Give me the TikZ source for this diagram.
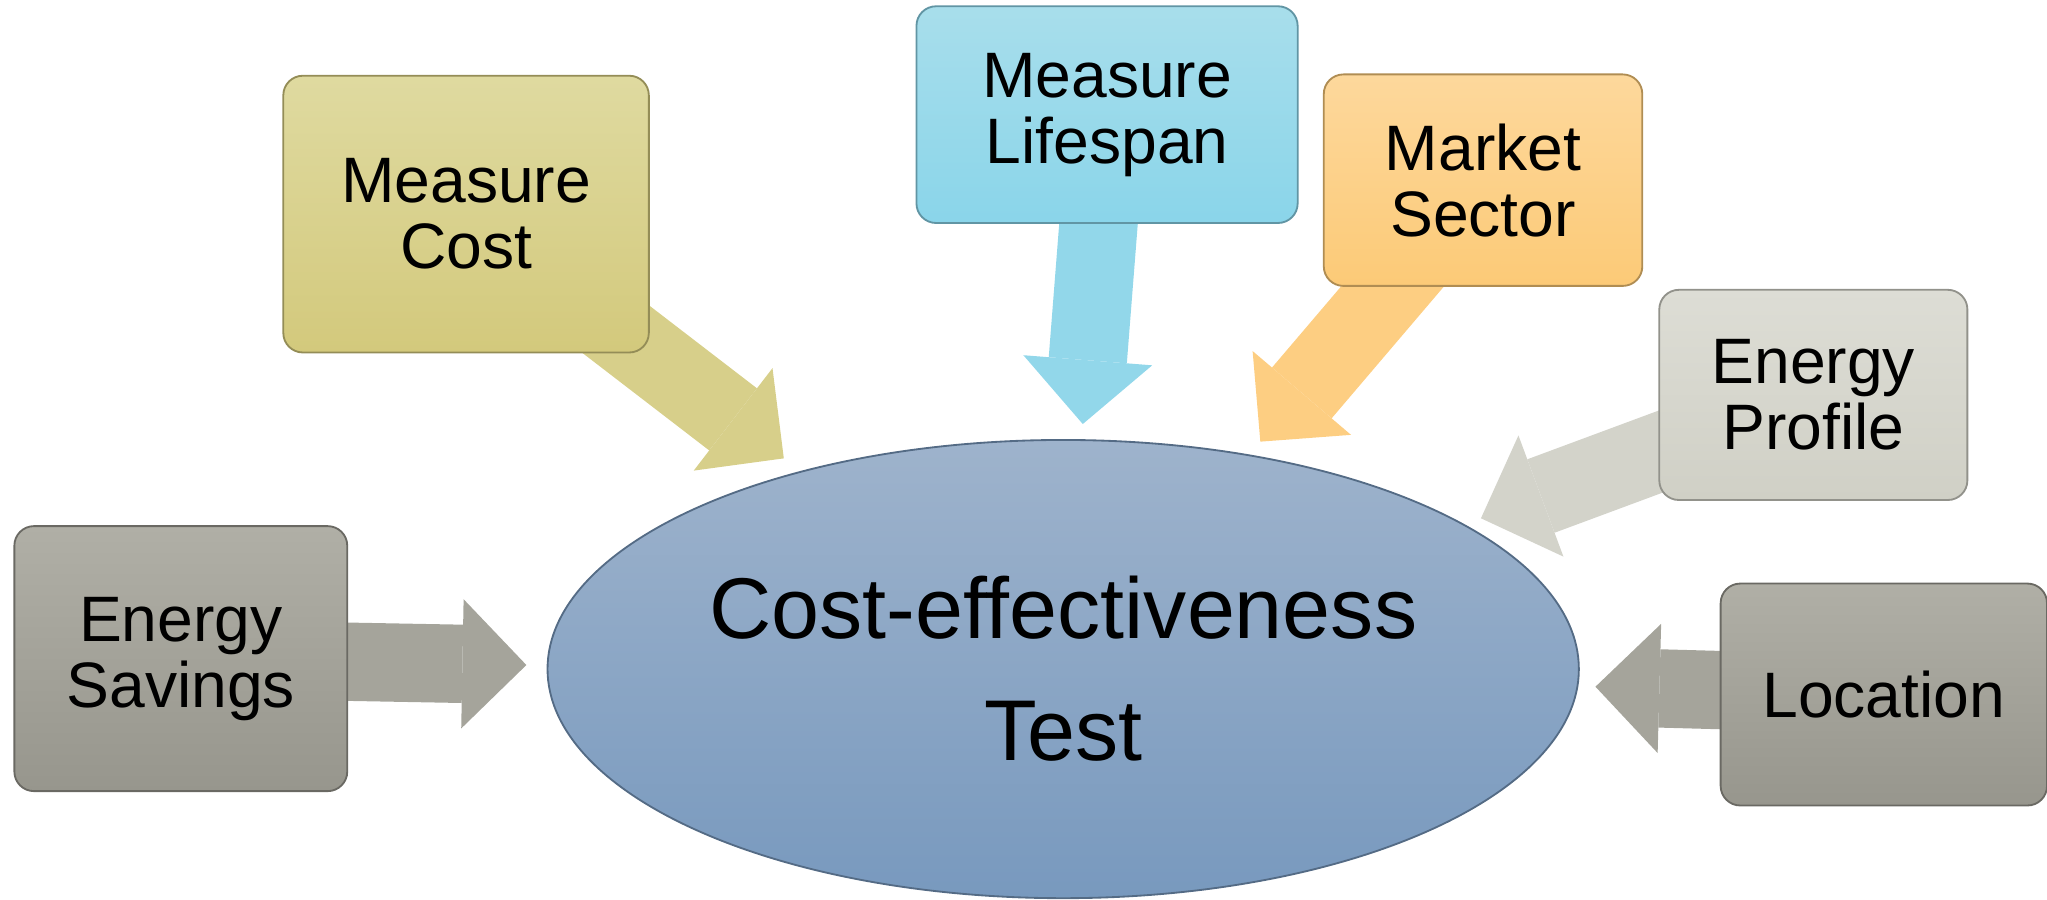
\documentclass[tikz,border=0pt]{standalone}
\usepackage{fontspec}
\setmainfont{Liberation Sans}
\usetikzlibrary{shapes.geometric}
\usetikzlibrary{arrows.meta}
\usetikzlibrary{backgrounds}

\definecolor{costA}{HTML}{DFDAA0}
\definecolor{costB}{HTML}{D3C97C}
\definecolor{costC}{HTML}{D7CF8A}
\definecolor{lifeA}{HTML}{A8DEEB}
\definecolor{lifeB}{HTML}{8AD5EA}
\definecolor{lifeC}{HTML}{92D7EA}
\definecolor{sectA}{HTML}{FDD89C}
\definecolor{sectB}{HTML}{FCCA77}
\definecolor{sectC}{HTML}{FDCE82}
\definecolor{profA}{HTML}{DDDDD5}
\definecolor{profB}{HTML}{D0D0C6}
\definecolor{profC}{HTML}{D3D3CA}
\definecolor{greyA}{HTML}{B0AFA6}
\definecolor{greyB}{HTML}{97968D}
\definecolor{greyC}{HTML}{A5A49B}
\definecolor{testA}{HTML}{9EB3CC}
\definecolor{testB}{HTML}{7899BE}

\newcommand{\factorfont}{\fontsize{14}{14.4}\selectfont}
\newcommand{\centrefont}{\fontsize{18.8}{26.6}\selectfont}

\tikzset{
  factor/.style={rounded corners=0.15cm, draw=#1B!70!black, line width=0.4pt,
    top color=#1A, bottom color=#1B, align=center, inner sep=0pt, font=\factorfont},
  feed/.style={line width=0.6cm, draw=#1C,
    -{Triangle[width=0.99cm,length=0.49cm,line width=0pt]}}
}

\begin{document}
\begin{tikzpicture}
    \useasboundingbox (0,0) rectangle (15.68,6.89);

    \node[ellipse, draw=testB!70!black, line width=0.4pt, top color=testA, bottom color=testB,
      minimum width=7.9cm, minimum height=3.51cm, inner sep=0pt, align=center,
      font=\centrefont] (CET) at (8.144,1.765) {Cost-effectiveness\\Test};

    \node[factor=cost, minimum width=2.8cm, minimum height=2.12cm] (MC) at (3.57,5.25) {Measure\\Cost};
    \node[factor=life, minimum width=2.92cm, minimum height=1.66cm] (ML) at (8.48,6.012) {Measure\\Lifespan};
    \node[factor=sect, minimum width=2.44cm, minimum height=1.62cm] (MS) at (11.36,5.51) {Market\\Sector};
    \node[factor=prof, minimum width=2.36cm, minimum height=1.61cm] (EP) at (13.89,3.865) {Energy\\Profile};
    \node[factor=grey, minimum width=2.55cm, minimum height=2.03cm] (ES) at (1.385,1.845) {Energy\\Savings};
    \node[factor=grey, minimum width=2.5cm, minimum height=1.7cm] (LO) at (14.43,1.57) {Location};

    \coordinate (tMC) at (6.004,3.379);
    \coordinate (tML) at (8.294,3.642);
    \coordinate (tMS) at (9.654,3.507);
    \coordinate (tEP) at (11.344,2.92);
    \coordinate (tES) at (4.032,1.796);
    \coordinate (tLO) at (12.221,1.63);

    \begin{scope}[on background layer]
      \draw[feed=cost] (MC.center) -- (tMC);
      \draw[feed=life] (ML.center) -- (tML);
      \draw[feed=sect] (MS.center) -- (tMS);
      \draw[feed=prof] (EP.center) -- (tEP);
      \draw[feed=grey] (ES.center) -- (tES);
      \draw[feed=grey] (LO.center) -- (tLO);
    \end{scope}
  \end{tikzpicture}
\end{document}
